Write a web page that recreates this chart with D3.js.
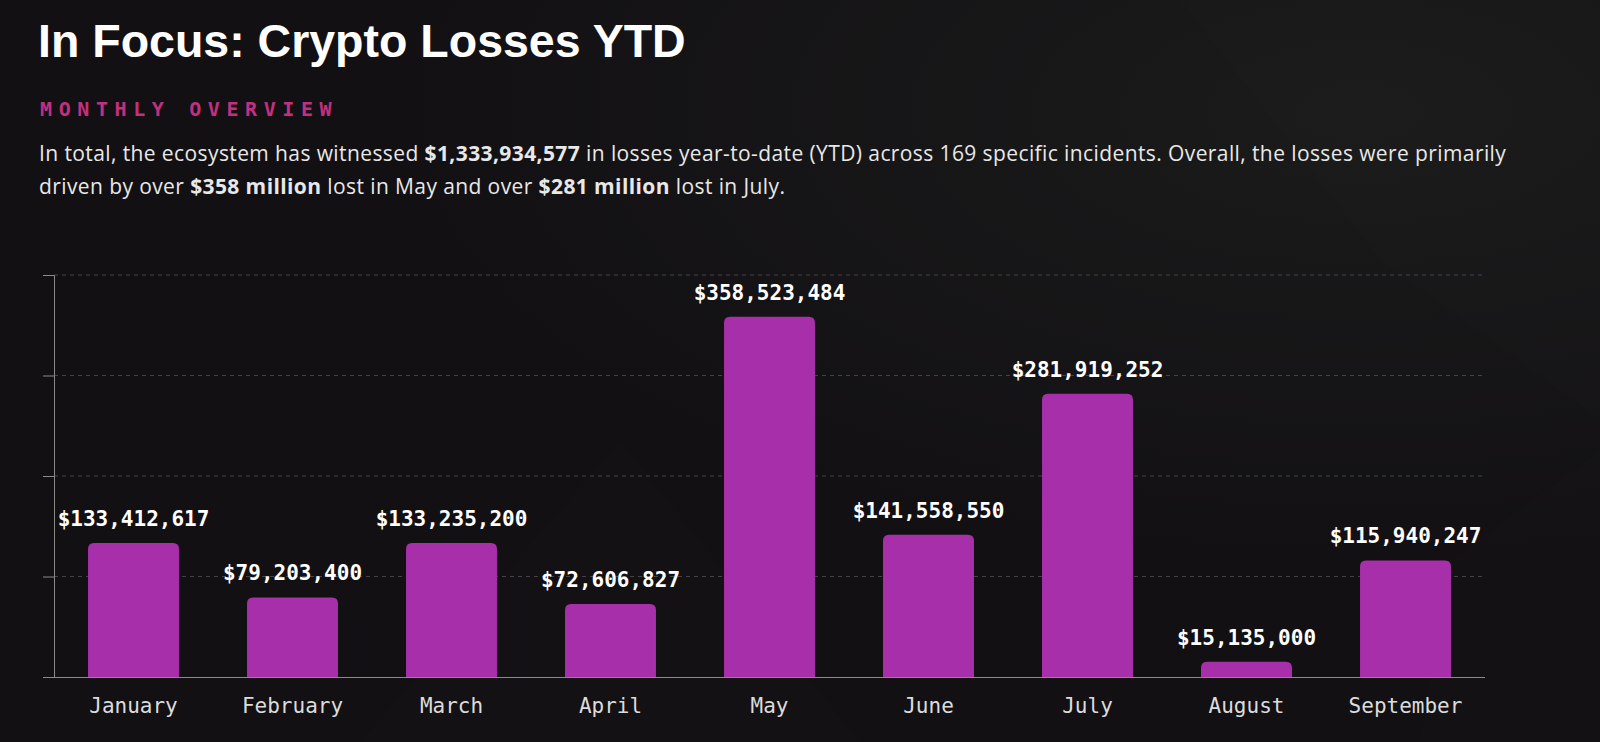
<!DOCTYPE html>
<html>
<head>
<meta charset="utf-8">
<script src="https://cdn.jsdelivr.net/npm/d3@7/dist/d3.min.js"></script>
<style>
  html, body { margin: 0; padding: 0; background: #121013; overflow: hidden; }
  svg { display: block; }
</style>
</head>
<body>
<svg id="chart" width="1600" height="742"></svg>
<script>
const months = ["January", "February", "March", "April", "May", "June", "July", "August", "September"];
const losses = [133412617, 79203400, 133235200, 72606827, 358523484, 141558550, 281919252, 15135000, 115940247];
const yTicks = [0, 100000000, 200000000, 300000000, 400000000];

const titleText = "In Focus: Crypto Losses YTD";
const kicker = "MONTHLY OVERVIEW";
const paraLine1 = [
  ["In total, the ecosystem has witnessed ", false],
  ["$1,333,934,577", true],
  [" in losses year-to-date (YTD) across 169 specific incidents. Overall, the losses were primarily", false]
];
const paraLine2 = [
  ["driven by over ", false],
  ["$358 million", true],
  [" lost in May and over ", false],
  ["$281 million", true],
  [" lost in July.", false]
];

const svg = d3.select("#chart");
const W = 1600, H = 742;

// background
const defs = svg.append("defs");
const rg = defs.append("radialGradient").attr("id", "glow").attr("cx", "0.85").attr("cy", "0.15").attr("r", "0.6");
rg.append("stop").attr("offset", "0").attr("stop-color", "#1b1b1b");
rg.append("stop").attr("offset", "1").attr("stop-color", "#121013");
svg.append("rect").attr("width", W).attr("height", H).attr("fill", "url(#glow)");
const shapes = [
  [[1180, 0], [1600, 0], [1600, 420], [1380, 260]],
  [[360, 742], [620, 440], [860, 742]],
  [[1450, 560], [1600, 450], [1600, 742], [1420, 742]]
];
svg.append("g").selectAll("path").data(shapes).join("path")
  .attr("d", d => "M" + d.map(p => p.join(",")).join("L") + "Z")
  .attr("fill", "#ffffff").attr("opacity", 0.008);

// title
svg.append("text").attr("x", 38).attr("y", 57)
  .attr("font-family", "Liberation Sans, Arial, sans-serif")
  .attr("font-size", 46.5).attr("font-weight", 700)
  .attr("letter-spacing", 0)
  .attr("fill", "#ffffff").text(titleText);

svg.append("text").attr("x", 40).attr("y", 116)
  .attr("font-family", "DejaVu Sans Mono, monospace")
  .attr("font-size", 20).attr("font-weight", 700)
  .attr("letter-spacing", 6.6)
  .attr("fill", "#c2307f").text(kicker);

function para(lines, y) {
  const t = svg.append("text").attr("x", 39).attr("y", y)
    .attr("font-family", "Open Sans, sans-serif")
    .attr("font-size", 21).attr("letter-spacing", 0.4).attr("fill", "#e8e8e8");
  lines.forEach(([s, b]) => t.append("tspan").attr("font-weight", b ? 700 : 400).text(s));
  return t;
}
para(paraLine1, 161);
para(paraLine2, 194);

// scales
const x = d3.scaleBand().domain(months).range([54, 1485]).paddingInner(0.428).paddingOuter(0.214);
const y = d3.scaleLinear().domain([0, 400000000]).range([677, 275]);

// gridlines
svg.append("g").selectAll("line").data(yTicks.slice(1)).join("line")
  .attr("x1", 54).attr("x2", 1485)
  .attr("y1", d => y(d)).attr("y2", d => y(d))
  .attr("stroke", "#444446").attr("stroke-width", 1).attr("stroke-dasharray", "4,4");

// y axis (no labels)
const yAxis = d3.axisLeft(y).tickValues(yTicks).tickSize(11).tickFormat("");
const yg = svg.append("g").attr("transform", "translate(54,0)").call(yAxis);
yg.selectAll("path, line").attr("stroke", "#8a8a8a");

// x axis
const xAxis = d3.axisBottom(x).tickSize(0).tickPadding(0);
const xg = svg.append("g").attr("transform", "translate(0,677)").call(xAxis);
xg.select("path.domain").attr("stroke", "#8a8a8a").attr("d", "M54,0.5H1485");
xg.selectAll("text")
  .attr("y", 36).attr("dy", 0)
  .attr("font-family", "DejaVu Sans Mono, monospace")
  .attr("font-size", 21).attr("fill", "#dcdcdc");

// bars with rounded top
const r = 6;
function barPath(d, i) {
  const x0 = x(months[i]), w = x.bandwidth(), yt = y(d), yb = y(0);
  return `M${x0},${yb}V${yt + r}Q${x0},${yt} ${x0 + r},${yt}H${x0 + w - r}Q${x0 + w},${yt} ${x0 + w},${yt + r}V${yb}Z`;
}
svg.append("g").selectAll("path").data(losses).join("path")
  .attr("d", barPath).attr("fill", "#a730aa");

// value labels
const fmt = d3.format("$,");
svg.append("g").selectAll("text").data(losses).join("text")
  .attr("x", (d, i) => x(months[i]) + x.bandwidth() / 2)
  .attr("y", d => y(d) - 17)
  .attr("text-anchor", "middle")
  .attr("font-family", "DejaVu Sans Mono, monospace")
  .attr("font-size", 21).attr("font-weight", 700)
  .attr("fill", "#ffffff")
  .text(d => fmt(d));
</script>
</body>
</html>
